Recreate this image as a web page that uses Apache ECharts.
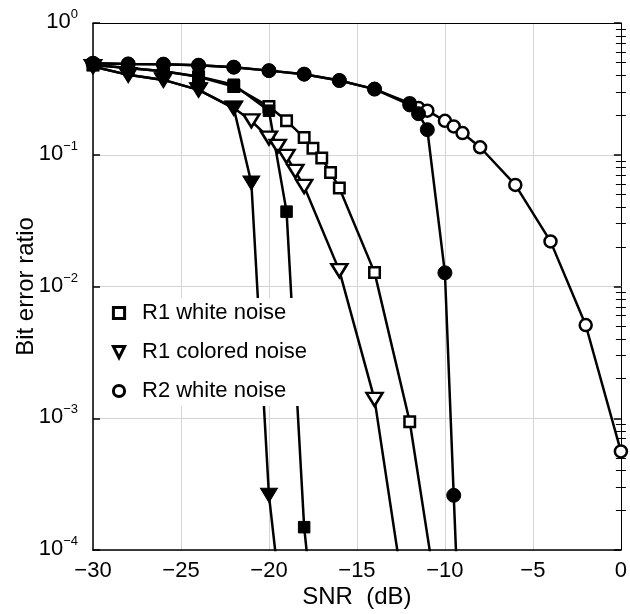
<!DOCTYPE html>
<html>
<head>
<meta charset="utf-8">
<script src="https://cdn.jsdelivr.net/npm/echarts@6/dist/echarts.min.js"></script>
<style>
html,body{margin:0;padding:0;background:#fff;}
#c{width:630px;height:614px;}
</style>
</head>
<body>
<div id="c"></div>
<script>
// ---- data ----
const snrR1WhiteOpen = [-30,-28,-26,-24,-22,-20,-19,-18,-17.5,-17,-16.5,-16,-14,-12,-10];
const berR1WhiteOpen = [0.48,0.455,0.43,0.39,0.33,0.232,0.181,0.135,0.112,0.0944,0.0734,0.056,0.0128,0.00094,0.000018];

const snrR1ColoredOpen = [-30,-28,-26,-24,-22,-21,-20,-19.5,-19,-18.5,-18,-16,-14,-12];
const berR1ColoredOpen = [0.467,0.404,0.37,0.311,0.226,0.181,0.134,0.116,0.097,0.0748,0.0575,0.0132,0.00139,0.0000236];

const snrR2WhiteOpen = [-30,-28,-26,-24,-22,-20,-18,-16,-14,-12,-11.5,-11,-10,-9.5,-9,-8,-6,-4,-2,0];
const berR2WhiteOpen = [0.495,0.489,0.487,0.478,0.462,0.435,0.409,0.366,0.315,0.246,0.226,0.216,0.181,0.164,0.146,0.114,0.059,0.022,0.0051,0.00056];

const snrR1WhiteFilled = [-30,-28,-26,-24,-22,-20,-19,-18,-17];
const berR1WhiteFilled = [0.48,0.455,0.43,0.392,0.34,0.216,0.037,0.000149,0.000008];

const snrR1ColoredFilled = [-30,-28,-26,-24,-22,-21,-20,-19];
const berR1ColoredFilled = [0.467,0.404,0.37,0.311,0.226,0.061,0.00026,0.000017];

const snrR2WhiteFilled = [-30,-28,-26,-24,-22,-20,-18,-16,-14,-12,-11.5,-11,-10,-9.5,-9];
const berR2WhiteFilled = [0.495,0.489,0.487,0.478,0.462,0.435,0.409,0.366,0.315,0.239,0.205,0.155,0.0127,0.00026,0.000006];

const legendNames = ['R1 white noise','R1 colored noise','R2 white noise'];
const xTicks = [-30,-25,-20,-15,-10,-5,0];
const yDecades = [1e-4,1e-3,1e-2,1e-1,1];
const minorTickValues = [];
for (let d = -4; d <= -1; d++) { for (let k = 2; k <= 9; k++) minorTickValues.push(Math.log10(k) + d); }

// ---- chart ----
const FONT = 'Liberation Sans, Arial, Helvetica, sans-serif';
const pairs = (xs, ys) => xs.map((x, i) => [x, ys[i]]);
const chart = echarts.init(document.getElementById('c'), null, {renderer: 'canvas'});

const lineStyle = {color: '#000', width: 2.5};
function openSeries(name, xs, ys, symbol, size, rotate) {
  return {
    name, type: 'line', xAxisIndex: 0, yAxisIndex: 0, data: pairs(xs, ys),
    symbol, symbolSize: size, symbolRotate: rotate || 0, clip: true,
    lineStyle, itemStyle: {color: '#fff', borderColor: '#000', borderWidth: 2.5},
    emphasis: {disabled: true}, animation: false
  };
}
function filledSeries(name, xs, ys, symbol, size, rotate) {
  return {
    name, type: 'line', xAxisIndex: 0, yAxisIndex: 0, data: pairs(xs, ys),
    symbol, symbolSize: size, symbolRotate: rotate || 0, clip: true,
    lineStyle, itemStyle: {color: '#000', borderColor: '#000', borderWidth: 1},
    emphasis: {disabled: true}, animation: false
  };
}

const supFmt = v => {
  const e = Math.round(Math.log10(v));
  return '{b|10}{s|' + (e < 0 ? '\u2212' + (-e) : e) + '}';
};

const option = {
  animation: false,
  backgroundColor: '#fff',
  grid: {left: 93, right: 8, top: 23, bottom: 63, containLabel: false},
  legend: {
    data: legendNames,
    orient: 'vertical',
    left: 96, top: 298,
    padding: [4, 8, 4, 4],
    itemWidth: 36, itemHeight: 14, itemGap: 17,
    backgroundColor: '#fff',
    textStyle: {fontFamily: FONT, fontSize: 22, color: '#000'},
    itemStyle: {borderWidth: 3},
    lineStyle: {opacity: 0},
    selectedMode: false
  },
  xAxis: [
    {
      type: 'value', min: -30, max: 0, interval: 5, position: 'bottom',
      name: 'SNR  (dB)', nameLocation: 'middle', nameGap: 35, nameMoveOverlap: false,
      nameTextStyle: {fontFamily: FONT, fontSize: 24, color: '#000'},
      axisLine: {show: true, onZero: false, lineStyle: {color: '#000', width: 1.5}},
      axisTick: {show: false},
      axisLabel: {margin: 10, fontFamily: FONT, fontSize: 22, color: '#000',
        formatter: v => v < 0 ? '\u2212' + Math.abs(v) : String(v)},
      splitLine: {show: true, lineStyle: {color: '#d4d4d4', width: 1}}
    },
    {
      type: 'value', min: -30, max: 0, interval: 5, position: 'top',
      axisLine: {show: true, onZero: false, lineStyle: {color: '#000', width: 1}},
      axisTick: {show: false}, axisLabel: {show: false}, splitLine: {show: false}
    }
  ],
  yAxis: [
    {
      type: 'log', logBase: 10, min: 1e-4, max: 1, position: 'left',
      name: 'Bit error ratio', nameLocation: 'middle', nameGap: 55, nameMoveOverlap: false,
      nameTextStyle: {fontFamily: FONT, fontSize: 24, color: '#000'},
      axisLine: {show: true, onZero: false, lineStyle: {color: '#000', width: 1.5}},
      axisTick: {show: true, inside: true, length: 7, lineStyle: {color: '#000', width: 1.5}},
      axisLabel: {margin: 15, formatter: supFmt, padding: [0, 0, 5, 0],
        rich: {
          b: {fontFamily: FONT, fontSize: 22, color: '#000', verticalAlign: 'bottom'},
          s: {fontFamily: FONT, fontSize: 13, color: '#000', verticalAlign: 'bottom', padding: [0, 0, 12, 0]}
        }},
      splitLine: {show: true, lineStyle: {color: '#d4d4d4', width: 1}}
    },
    {
      type: 'value', min: -4, max: 0, position: 'left',
      axisLine: {show: false}, axisLabel: {show: false}, splitLine: {show: false},
      axisTick: {show: true, inside: true, length: 5, customValues: minorTickValues, lineStyle: {color: '#000', width: 1}}
    },
    {
      type: 'log', logBase: 10, min: 1e-4, max: 1, position: 'right',
      axisLine: {show: true, onZero: false, lineStyle: {color: '#000', width: 1}},
      axisTick: {show: true, inside: true, length: 7, lineStyle: {color: '#000', width: 1.5}},
      axisLabel: {show: false}, splitLine: {show: false}
    },
    {
      type: 'value', min: -4, max: 0, position: 'right',
      axisLine: {show: false}, axisLabel: {show: false}, splitLine: {show: false},
      axisTick: {show: true, inside: true, length: 5, customValues: minorTickValues, lineStyle: {color: '#000', width: 1}}
    }
  ],
  series: [
    openSeries(legendNames[0], snrR1WhiteOpen, berR1WhiteOpen, 'rect', 10.5),
    openSeries(legendNames[1], snrR1ColoredOpen, berR1ColoredOpen, 'triangle', [16, 13], 180),
    openSeries(legendNames[2], snrR2WhiteOpen, berR2WhiteOpen, 'circle', 12),
    filledSeries('R1 white noise (filled)', snrR1WhiteFilled, berR1WhiteFilled, 'rect', 11.5),
    filledSeries('R1 colored noise (filled)', snrR1ColoredFilled, berR1ColoredFilled, 'triangle', [17, 14], 180),
    filledSeries('R2 white noise (filled)', snrR2WhiteFilled, berR2WhiteFilled, 'circle', 14)
  ]
};
chart.setOption(option);
</script>
</body>
</html>
